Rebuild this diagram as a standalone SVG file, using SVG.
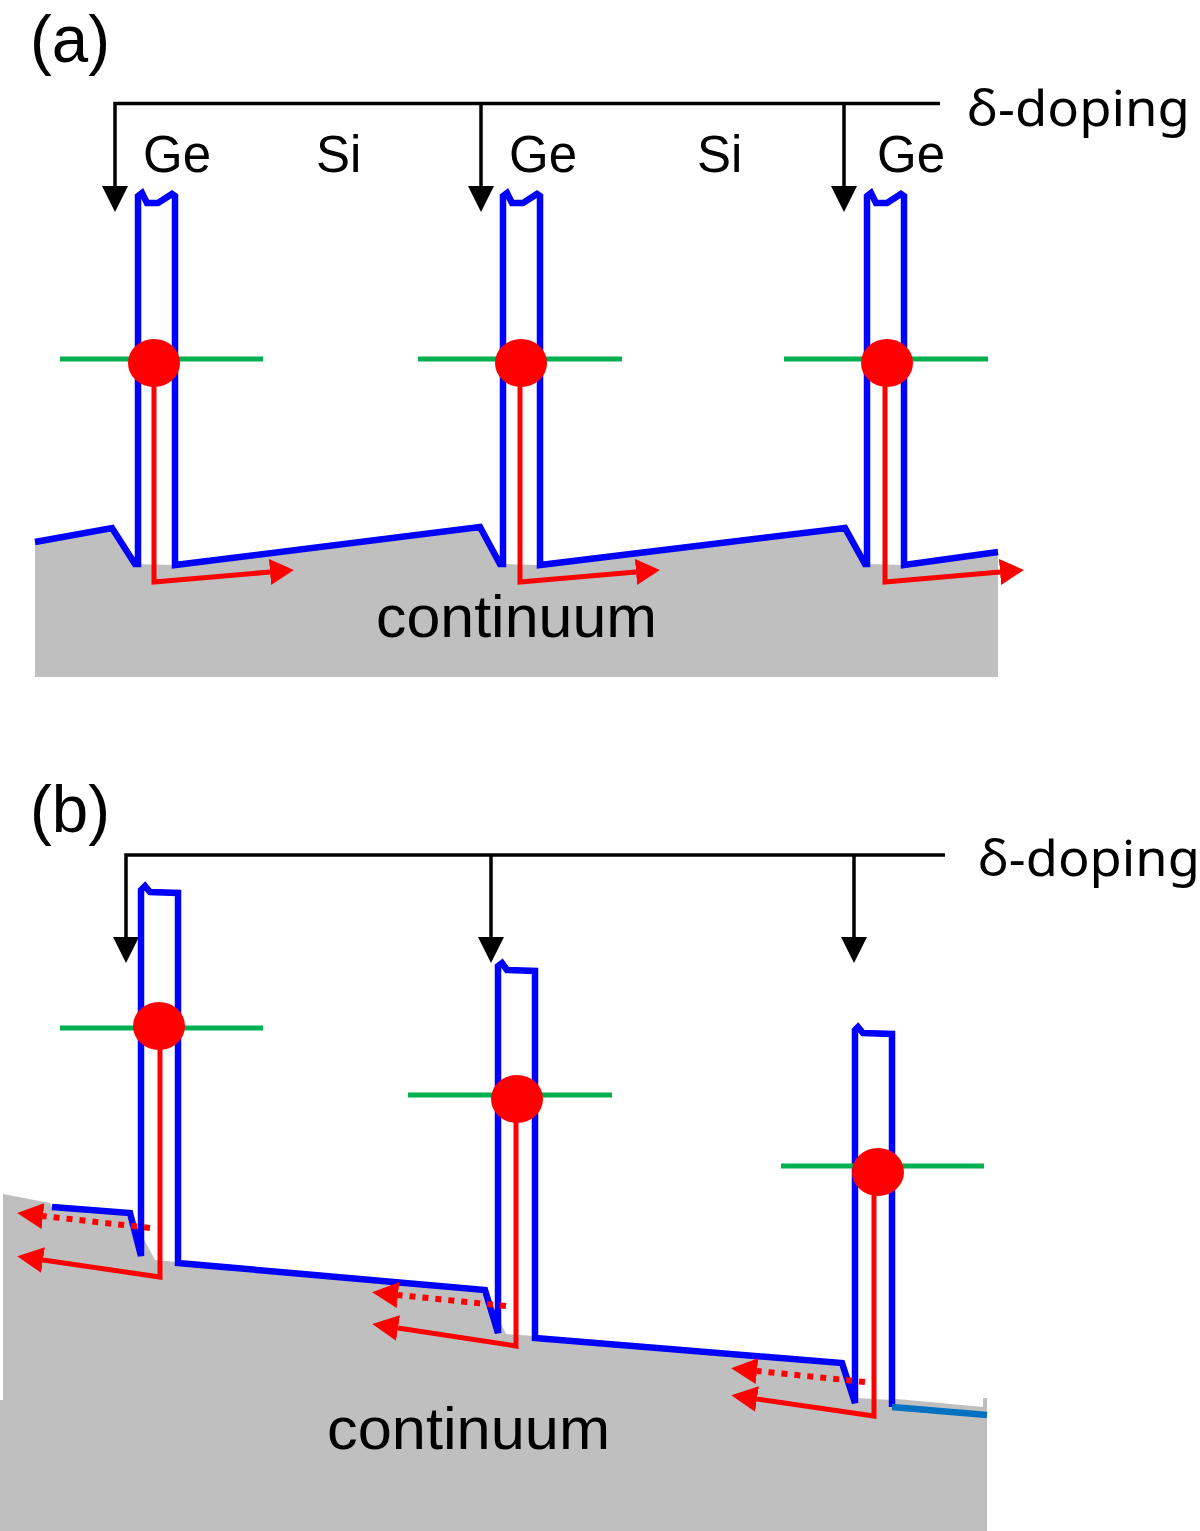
<svg xmlns="http://www.w3.org/2000/svg" width="1200" height="1531" viewBox="0 0 1200 1531">
  <defs>
    <style>
      .lbl { font-family: "Liberation Sans", Arial, sans-serif; fill: #000; }
      .dop { font-family: "Noto Sans", "Liberation Sans", sans-serif; fill: #000; font-size: 50px; }
      .cont { font-family: "Liberation Sans", Arial, sans-serif; fill: #000; font-size: 60px; }
      .gray { fill: #BFBFBF; stroke: none; }
      .band { fill: none; stroke: #0000FF; stroke-width: 6.5; stroke-linejoin: miter; }
      .band2 { fill: none; stroke: #0070C0; stroke-width: 6.5; }
      .level { stroke: #00B050; stroke-width: 5; }
      .dopline { fill: none; stroke: #000; stroke-width: 3.5; }
      .path { fill: none; stroke: #FF0000; stroke-width: 5; }
      .dots { fill: none; stroke: #FF0000; stroke-width: 6; stroke-dasharray: 6 7; }
      .dot { fill: #FF0000; }
    </style>
    <marker id="blk" markerUnits="userSpaceOnUse" viewBox="0 0 26 26" markerWidth="26" markerHeight="26" refX="0" refY="13" orient="auto">
      <path d="M0,0 L26,13 L0,26 z" fill="#000"/>
    </marker>
    <marker id="red" markerUnits="userSpaceOnUse" viewBox="0 0 24 26" markerWidth="24" markerHeight="26" refX="0" refY="13" orient="auto">
      <path d="M0,0 L24,13 L0,26 z" fill="#FF0000"/>
    </marker>
    <marker id="redb" markerUnits="userSpaceOnUse" viewBox="0 0 26 26" markerWidth="26" markerHeight="26" refX="0" refY="13" orient="auto">
      <path d="M0,0 L26,13 L0,26 z" fill="#FF0000"/>
    </marker>
  </defs>

  <!-- Panel (a) -->
  <g id="panel-a">
    <text id="label-a" class="lbl" x="30" y="62" font-size="66" textLength="80" lengthAdjust="spacingAndGlyphs">(a)</text>
    <polygon id="continuum-a" class="gray" points="35,542 112,528 135,564 175,565 480,527 500,564 540,565 845,528 865,564 904,565 998,552 998,677 35,677"/>
    <text id="continuum-a-text" class="cont" x="376" y="637" textLength="281" lengthAdjust="spacingAndGlyphs">continuum</text>

    <g id="doping-a">
      <path class="dopline" d="M940,103.5 L115,103.5 L115,186" marker-end="url(#blk)"/>
      <path class="dopline" d="M481,103.5 L481,186" marker-end="url(#blk)"/>
      <path class="dopline" d="M844,103.5 L844,186" marker-end="url(#blk)"/>
      <text class="dop" x="967" y="126" textLength="223" lengthAdjust="spacingAndGlyphs">δ-doping</text>
    </g>

    <g id="materials-a">
      <text class="lbl" x="143" y="172" font-size="51">Ge</text>
      <text class="lbl" x="316" y="172" font-size="51">Si</text>
      <text class="lbl" x="509" y="172" font-size="51">Ge</text>
      <text class="lbl" x="697" y="172" font-size="51">Si</text>
      <text class="lbl" x="877" y="172" font-size="51">Ge</text>
    </g>

    <path id="band-a" class="band" d="M35,542 L112,528 L135,564 L138,564 L138,196 L142,193 L147,203 L158,203 L172,194 L175,196 L175,565 L480,527 L500,564 L503,564 L503,196 L507,193 L512,203 L523,203 L537,194 L540,196 L540,565 L845,528 L865,564 L867,564 L867,196 L871,193 L876,203 L887,203 L901,194 L904,196 L904,565 L998,552"/>

    <g id="well-a1">
      <line class="level" x1="60" y1="359" x2="263" y2="359"/>
      <path class="path" d="M154,363 L154,582 L270,572" marker-end="url(#red)"/>
      <ellipse class="dot" cx="154" cy="363" rx="26" ry="24"/>
    </g>
    <g id="well-a2">
      <line class="level" x1="418" y1="359" x2="622" y2="359"/>
      <path class="path" d="M520,363 L520,582 L636,572" marker-end="url(#red)"/>
      <ellipse class="dot" cx="521" cy="363" rx="26" ry="24"/>
    </g>
    <g id="well-a3">
      <line class="level" x1="784" y1="359" x2="988" y2="359"/>
      <path class="path" d="M885,363 L885,582 L1000,572" marker-end="url(#red)"/>
      <ellipse class="dot" cx="887" cy="363" rx="26" ry="24"/>
    </g>
  </g>

  <!-- Panel (b) -->
  <g id="panel-b">
    <text id="label-b" class="lbl" x="30" y="832" font-size="66" textLength="80" lengthAdjust="spacingAndGlyphs">(b)</text>
    <polygon id="continuum-b" class="gray" points="3,1194 50,1203 52,1207 130,1213 155,1260 178,1262 485,1290 506,1334 535,1336 842,1363 857,1398 892,1400 897,1399 983,1407 983,1398 987,1398 987,1531 0,1531 0,1400 3,1400"/>
    <text id="continuum-b-text" class="cont" x="327" y="1449" textLength="283" lengthAdjust="spacingAndGlyphs">continuum</text>

    <g id="doping-b">
      <path class="dopline" d="M945,855 L126,855 L126,937" marker-end="url(#blk)"/>
      <path class="dopline" d="M491,855 L491,937" marker-end="url(#blk)"/>
      <path class="dopline" d="M854,855 L854,937" marker-end="url(#blk)"/>
      <text class="dop" x="978" y="876" textLength="222" lengthAdjust="spacingAndGlyphs">δ-doping</text>
    </g>

    <path id="band-b" class="band" d="M52,1207 L130,1213 L141,1256 L141,890 L145,886 L150,892 L178,893 L178,1263 L485,1290 L498,1333 L498,966 L502,963 L507,970 L535,971 L535,1338 L842,1363 L855,1403 L855,1030 L858,1027 L863,1033 L892,1034 L892,1407"/>
    <line id="band-b-end" class="band2" x1="892" y1="1407" x2="987" y2="1415"/>

    <g id="well-b1">
      <line class="level" x1="60" y1="1028" x2="263" y2="1028"/>
      <path class="dots" d="M150,1228 L43,1216" marker-end="url(#redb)"/>
      <path class="path" d="M160,1026 L160,1277 L43,1260" marker-end="url(#redb)"/>
      <ellipse class="dot" cx="159" cy="1026" rx="26" ry="24"/>
    </g>
    <g id="well-b2">
      <line class="level" x1="408" y1="1095" x2="612" y2="1095"/>
      <path class="dots" d="M506,1306 L398,1295" marker-end="url(#redb)"/>
      <path class="path" d="M516,1099 L516,1346 L398,1328" marker-end="url(#redb)"/>
      <ellipse class="dot" cx="517" cy="1099" rx="26" ry="24"/>
    </g>
    <g id="well-b3">
      <line class="level" x1="781" y1="1166" x2="984" y2="1166"/>
      <path class="dots" d="M865,1382 L757,1371" marker-end="url(#redb)"/>
      <path class="path" d="M874,1172 L874,1416 L757,1399" marker-end="url(#redb)"/>
      <ellipse class="dot" cx="878" cy="1172" rx="26" ry="24"/>
    </g>
  </g>
</svg>
